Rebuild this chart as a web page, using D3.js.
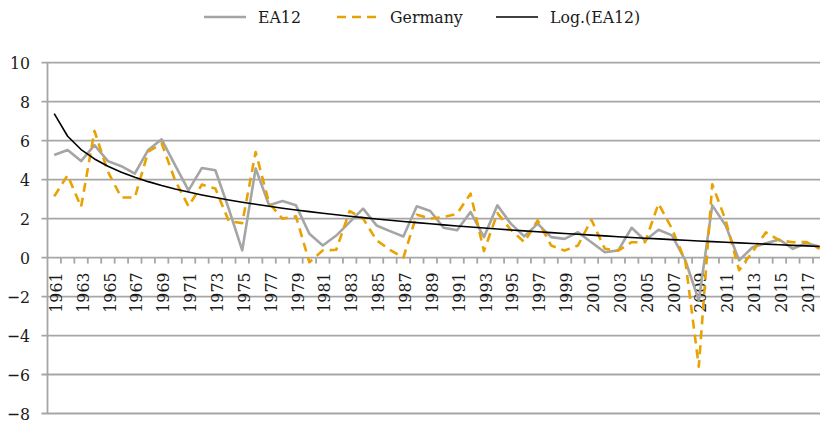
<!DOCTYPE html>
<html>
<head>
<meta charset="utf-8">
<script src="https://cdn.jsdelivr.net/npm/d3@7/dist/d3.min.js"></script>
<style>
  html, body { margin: 0; padding: 0; background: #fff; }
  text { font-stretch: condensed; }
</style>
</head>
<body>
<svg id="chart" width="820" height="425"></svg>
<script>
// Years on the category axis
const years = d3.range(1961, 2019).map(String);

// Annual growth, per cent
const ea12 = [
  5.26, 5.52, 4.95, 5.77, 4.95, 4.69, 4.31, 5.52, 6.07, 4.74,
  3.45, 4.60, 4.48, 2.50, 0.37, 4.57, 2.68, 2.90, 2.68, 1.22,
  0.62, 1.13, 1.82, 2.51, 1.65, 1.36, 1.08, 2.63, 2.39, 1.53,
  1.40, 2.34, 1.05, 2.68, 1.74, 1.09, 1.74, 1.05, 0.96, 1.30,
  0.79, 0.27, 0.37, 1.53, 0.88, 1.43, 1.14, -0.15, -2.20, 2.68,
  1.65, -0.14, 0.53, 0.74, 0.93, 0.45, 0.74, 0.57
];
const germany = [
  3.14, 4.23, 2.60, 6.50, 4.40, 3.08, 3.08, 5.43, 5.86, 3.97,
  2.63, 3.75, 3.54, 1.87, 1.77, 5.42, 2.80, 2.00, 2.12, -0.24,
  0.37, 0.40, 2.39, 2.00, 0.89, 0.40, 0.00, 2.20, 2.00, 2.08,
  2.25, 3.28, 0.33, 2.28, 1.43, 0.79, 1.91, 0.62, 0.36, 0.62,
  1.94, 0.45, 0.36, 0.79, 0.79, 2.77, 1.48, -0.20, -5.60, 3.76,
  1.91, -0.65, 0.30, 1.30, 0.88, 0.79, 0.80, 0.45
];

const yTicks = [-8, -6, -4, -2, 0, 2, 4, 6, 8, 10];
const xLabelYears = years.filter((d, i) => i % 2 === 0);

const legendItems = [
  { name: "EA12", key: "ea12" },
  { name: "Germany", key: "germany" },
  { name: "Log.(EA12)", key: "trend" }
];

// Logarithmic trend of EA12: least squares of y on ln(t), t = 1..n
function logTrend(values) {
  const xs = values.map((v, i) => Math.log(i + 1));
  const mx = d3.mean(xs), my = d3.mean(values);
  let sxy = 0, sxx = 0;
  xs.forEach((xv, i) => { sxy += (xv - mx) * (values[i] - my); sxx += (xv - mx) * (xv - mx); });
  const a = sxy / sxx, b = my - a * mx;
  return xs.map(xv => a * xv + b);
}
const trend = logTrend(ea12);

const styles = {
  ea12: { stroke: "#a5a5a5", width: 2.6, dash: null },
  germany: { stroke: "#e8a202", width: 2.6, dash: "9,6" },
  trend: { stroke: "#000000", width: 1.6, dash: null }
};

const FONT = "'DejaVu Serif Condensed', 'DejaVu Serif', serif";

const svg = d3.select("#chart");
const plotLeft = 47.5, plotRight = 826.4, plotTop = 62.7, plotBottom = 413.5;

const x = d3.scaleBand().domain(years).range([plotLeft, plotRight]).paddingInner(0).paddingOuter(0);
const y = d3.scaleLinear().domain([-8, 10]).range([plotBottom, plotTop]);
const cx = d => x(d) + x.bandwidth() / 2;

const gridColor = "#a6a6a6";

// Horizontal gridlines with small ticks to the left of the axis
svg.append("g").selectAll("line")
  .data(yTicks)
  .join("line")
  .attr("x1", plotLeft - 6)
  .attr("x2", 820)
  .attr("y1", d => y(d))
  .attr("y2", d => y(d))
  .attr("stroke", gridColor)
  .attr("stroke-width", 1.8);

// Vertical value axis
svg.append("line")
  .attr("x1", plotLeft).attr("x2", plotLeft)
  .attr("y1", y(10)).attr("y2", y(-8))
  .attr("stroke", gridColor).attr("stroke-width", 1.8);

// Value labels
svg.append("g").selectAll("text")
  .data(yTicks)
  .join("text")
  .attr("x", 30)
  .attr("y", d => y(d))
  .attr("dy", "0.35em")
  .attr("text-anchor", "end")
  .style("font-family", FONT)
  .attr("font-size", 17.5)
  .attr("fill", "#1a1a1a")
  .text(d => d < 0 ? "\u2212" + Math.abs(d) : String(d));

// Category axis on the zero line: tick marks at band boundaries
const boundaries = years.map(d => x(d)).concat([plotRight]);
svg.append("g").selectAll("line")
  .data(boundaries.slice(1))
  .join("line")
  .attr("x1", d => d).attr("x2", d => d)
  .attr("y1", y(0)).attr("y2", y(0) + 6)
  .attr("stroke", gridColor).attr("stroke-width", 1.8);

// Rotated year labels
svg.append("g").selectAll("text")
  .data(xLabelYears)
  .join("text")
  .attr("transform", d => `translate(${cx(d) + 1.5},${y(0) + 15}) rotate(-90)`)
  .attr("dy", "0.35em")
  .attr("text-anchor", "end")
  .style("font-family", FONT)
  .attr("font-size", 17.5)
  .attr("fill", "#1a1a1a")
  .text(d => d);

// Series lines
const line = d3.line().x((d, i) => cx(years[i])).y(d => y(d));
const series = [
  { key: "ea12", values: ea12 },
  { key: "germany", values: germany },
  { key: "trend", values: trend }
];
svg.append("g").selectAll("path")
  .data(series)
  .join("path")
  .attr("d", d => line(d.values))
  .attr("fill", "none")
  .attr("stroke", d => styles[d.key].stroke)
  .attr("stroke-width", d => styles[d.key].width)
  .attr("stroke-dasharray", d => styles[d.key].dash)
  .attr("stroke-linejoin", "round");

// Legend
const legendX = [204, 337, 496];
const legend = svg.append("g").selectAll("g")
  .data(legendItems)
  .join("g")
  .attr("transform", (d, i) => `translate(${legendX[i]},17)`);
legend.append("line")
  .attr("x1", 0).attr("x2", 42)
  .attr("stroke", d => styles[d.key].stroke)
  .attr("stroke-width", d => styles[d.key].width)
  .attr("stroke-dasharray", d => styles[d.key].dash);
legend.append("text")
  .attr("x", (d, i) => [54, 53, 54][i])
  .attr("dy", "0.35em")
  .style("font-family", FONT)
  .attr("font-size", 17.5)
  .attr("fill", "#1a1a1a")
  .text(d => d.name);
</script>
</body>
</html>
